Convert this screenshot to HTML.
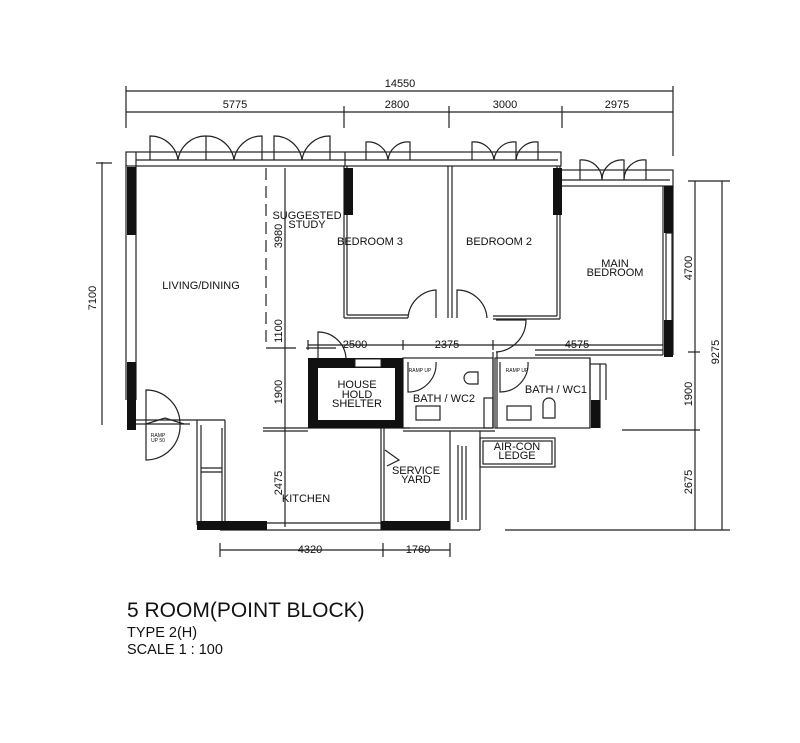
<!DOCTYPE html>
<html><head><meta charset="utf-8"><style>
body{margin:0;background:#fff;width:800px;height:738px;overflow:hidden}
text{font-family:"Liberation Sans",sans-serif;fill:#111}
</style></head><body>
<svg width="800" height="738" viewBox="0 0 800 738" xmlns="http://www.w3.org/2000/svg">
<g stroke="#222" stroke-width="1.2" fill="none">
<line x1="126" y1="91" x2="673" y2="91"/>
<line x1="126" y1="112" x2="673" y2="112"/>
<line x1="126" y1="86" x2="126" y2="128"/><line x1="673" y1="86" x2="673" y2="156"/>
<line x1="344" y1="106" x2="344" y2="128"/><line x1="449" y1="106" x2="449" y2="128"/><line x1="562" y1="106" x2="562" y2="128"/>
<line x1="102" y1="162" x2="102" y2="425"/><line x1="96" y1="163" x2="112" y2="163"/>
<line x1="695" y1="181" x2="695" y2="530"/><line x1="722" y1="181" x2="722" y2="530"/>
<line x1="688" y1="181" x2="730" y2="181"/><line x1="688" y1="352" x2="700" y2="352"/><line x1="622" y1="430" x2="700" y2="430"/><line x1="505" y1="530" x2="730" y2="530"/>
<line x1="220" y1="550" x2="450" y2="550"/><line x1="220" y1="543" x2="220" y2="557"/><line x1="383" y1="543" x2="383" y2="557"/><line x1="450" y1="543" x2="450" y2="557"/>
<line x1="308" y1="345" x2="663" y2="345"/><line x1="308" y1="340" x2="308" y2="350"/><line x1="403" y1="340" x2="403" y2="350"/><line x1="493" y1="340" x2="493" y2="350"/>
<line x1="285" y1="168" x2="285" y2="527"/>
<rect x="126" y="152" width="435" height="14"/>
<line x1="136" y1="152" x2="136" y2="166"/><line x1="136" y1="160" x2="558" y2="160"/>
<rect x="561" y="170" width="112" height="16"/><line x1="561" y1="180" x2="670" y2="180"/>
<line x1="345" y1="152" x2="345" y2="166"/>
<path d="M150 160 V136 A28 28 0 0 1 178 160 M178 160 A28 28 0 0 1 206 136 V160 M206 136 A28 28 0 0 1 234 160 M234 160 A28 28 0 0 1 262 136 V160"/>
<path d="M274 160 V136 A28 28 0 0 1 302 160 M302 160 A28 28 0 0 1 330 136 V160"/>
<path d="M366 160 V142 A20 20 0 0 1 388 160 M388 160 A20 20 0 0 1 410 142 V160"/>
<path d="M472 160 V142 A20 20 0 0 1 494 160 M494 160 A20 20 0 0 1 516 142 V160 M516 160 A20 20 0 0 1 538 142 V160"/>
<path d="M580 180 V160 A20 20 0 0 1 602 180 M602 180 A20 20 0 0 1 624 160 V180 M624 180 A20 20 0 0 1 646 160 V180"/>
<line x1="126" y1="166" x2="126" y2="400"/><line x1="136" y1="166" x2="136" y2="400"/>
<line x1="266" y1="168" x2="266" y2="348" stroke-dasharray="12,6"/>
<line x1="266" y1="348" x2="340" y2="348" stroke-dasharray="30,10"/>
<line x1="344" y1="166" x2="344" y2="318"/><line x1="347" y1="166" x2="347" y2="315"/>
<line x1="344" y1="318" x2="408" y2="318"/><line x1="347" y1="315" x2="408" y2="315"/>
<path d="M408 318 A30 30 0 0 1 436 290 V318"/>
<line x1="448" y1="166" x2="448" y2="318"/><line x1="452" y1="166" x2="452" y2="318"/>
<path d="M457 318 V290 A30 30 0 0 1 487 318"/>
<line x1="493" y1="316" x2="557" y2="316"/><line x1="493" y1="319" x2="560" y2="319"/>
<line x1="557" y1="166" x2="557" y2="316"/><line x1="560" y1="166" x2="560" y2="319"/>
<path d="M496 320 H526 A32 32 0 0 1 496 352"/>
<line x1="663" y1="186" x2="663" y2="355"/><line x1="673" y1="186" x2="673" y2="355"/>
<rect x="666" y="233" width="6" height="88"/>
<line x1="535" y1="350" x2="663" y2="350"/><line x1="535" y1="355" x2="663" y2="355"/>
<rect x="403" y="358" width="90" height="70"/>
<rect x="495" y="358" width="95" height="70"/>
<line x1="493" y1="352" x2="493" y2="428"/><line x1="497" y1="352" x2="497" y2="428"/>
<path d="M408 362 V392 A28 28 0 0 0 436 362"/>
<path d="M500 362 V392 A28 28 0 0 0 528 362"/>
<rect x="416" y="406" width="24" height="14"/><rect x="507" y="406" width="24" height="14"/>
<path d="M470 372 h8 v12 h-8 a6 6 0 0 1 0 -12z"/>
<path d="M543 418 v-14 a6 6 0 0 1 12 0 v14z"/>
<rect x="484" y="398" width="9" height="30"/>
<line x1="590" y1="358" x2="590" y2="428"/><line x1="600" y1="364" x2="600" y2="428"/><line x1="590" y1="364" x2="606" y2="364"/><line x1="606" y1="364" x2="606" y2="400"/>
<line x1="263" y1="428" x2="410" y2="428"/><line x1="263" y1="431" x2="308" y2="431"/>
<line x1="403" y1="431" x2="495" y2="431"/>
<line x1="220" y1="530" x2="450" y2="530"/><line x1="267" y1="523" x2="381" y2="523"/>
<line x1="381" y1="428" x2="381" y2="530"/><line x1="384" y1="428" x2="384" y2="530"/>
<path d="M385 450 l14 10 l-12 6"/>
<line x1="450" y1="431" x2="450" y2="530"/><line x1="458" y1="445" x2="458" y2="522"/>
<line x1="462" y1="446" x2="462" y2="520"/><line x1="466" y1="446" x2="466" y2="520"/>
<line x1="450" y1="530" x2="480" y2="530"/><line x1="480" y1="431" x2="480" y2="530"/>
<rect x="480" y="438" width="75" height="29"/><rect x="483" y="441" width="69" height="23"/>
<line x1="136" y1="420" x2="225" y2="420"/><line x1="136" y1="424" x2="190" y2="424"/>
<line x1="197" y1="420" x2="197" y2="525"/><line x1="201" y1="425" x2="201" y2="525"/><line x1="222" y1="428" x2="222" y2="525"/><line x1="225" y1="420" x2="225" y2="525"/>
<line x1="201" y1="468" x2="222" y2="468"/><line x1="201" y1="472" x2="222" y2="472"/>
<path d="M146 424 V390 A34 34 0 0 1 180 424"/>
<path d="M146 424 V460 A34 34 0 0 0 180 424"/>
<path d="M146 424 L165 418 L184 424"/>
<path d="M318 358 V332 A28 28 0 0 1 346 358"/>
</g>
<g fill="#111">
<rect x="127" y="167" width="9" height="68"/><rect x="127" y="362" width="9" height="68"/>
<rect x="344" y="168" width="9" height="47"/><rect x="553" y="168" width="9" height="47"/>
<rect x="664" y="186" width="9" height="47"/><rect x="664" y="320" width="9" height="37"/>
<rect x="591" y="400" width="9" height="28"/>
<rect x="197" y="521" width="70" height="9"/><rect x="381" y="521" width="69" height="9"/>
<path fill-rule="evenodd" d="M308 358 H403 V428 H308Z M318 368 V420 H395 V368Z"/>
</g>
<rect x="355" y="359" width="26" height="8" fill="#fff" stroke="#222"/>
<g font-size="11" text-anchor="middle">
<text x="400" y="87">14550</text>
<text x="235" y="108">5775</text><text x="397" y="108">2800</text><text x="505" y="108">3000</text><text x="617" y="108">2975</text>
<text x="355" y="348">2500</text><text x="447" y="348">2375</text><text x="577" y="348">4575</text>
<text x="310" y="553">4320</text><text x="418" y="553">1760</text>
<text transform="translate(96,298) rotate(-90)">7100</text>
<text transform="translate(282,236) rotate(-90)">3980</text>
<text transform="translate(282,331) rotate(-90)">1100</text>
<text transform="translate(282,392) rotate(-90)">1900</text>
<text transform="translate(282,483) rotate(-90)">2475</text>
<text transform="translate(692,268) rotate(-90)">4700</text>
<text transform="translate(692,394) rotate(-90)">1900</text>
<text transform="translate(692,482) rotate(-90)">2675</text>
<text transform="translate(719,352) rotate(-90)">9275</text>
</g>
<g font-size="11" text-anchor="middle">
<text x="201" y="289">LIVING/DINING</text>
<text x="307" y="219">SUGGESTED</text><text x="307" y="228">STUDY</text>
<text x="370" y="245">BEDROOM 3</text>
<text x="499" y="245">BEDROOM 2</text>
<text x="615" y="267">MAIN</text><text x="615" y="276">BEDROOM</text>
<text x="357" y="388">HOUSE</text><text x="357" y="398">HOLD</text><text x="357" y="407">SHELTER</text>
<text x="444" y="402">BATH / WC2</text>
<text x="556" y="393">BATH / WC1</text>
<text x="517" y="450">AIR-CON</text><text x="517" y="459">LEDGE</text>
<text x="416" y="474">SERVICE</text><text x="416" y="483">YARD</text>
<text x="306" y="502">KITCHEN</text>
</g>
<g font-size="5" text-anchor="middle"><text x="420" y="372">RAMP UP</text><text x="517" y="372">RAMP UP</text><text x="158" y="437">RAMP</text><text x="158" y="442">UP 50</text></g>
<text x="127" y="617" font-size="21">5 ROOM(POINT BLOCK)</text>
<text x="127" y="637" font-size="14.5">TYPE 2(H)</text>
<text x="127" y="654" font-size="14.5">SCALE 1 : 100</text>
</svg>
</body></html>
